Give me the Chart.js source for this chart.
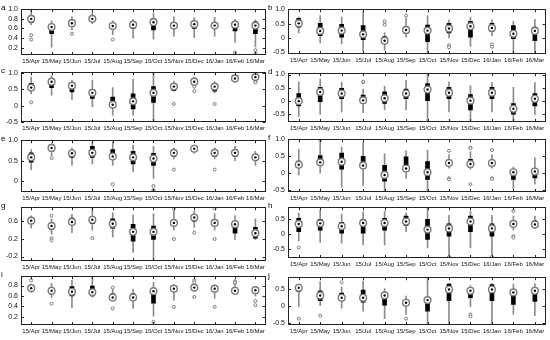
<!DOCTYPE html>
<html>
<head>
<meta charset="utf-8">
<script src="https://cdn.jsdelivr.net/npm/chart.js@4"></script>
<style>
  body { margin: 0; background: #fff; width: 550px; height: 340px; position: relative; overflow: hidden; }
  canvas { position: absolute; }
  .tag { position: absolute; font: 8px "Liberation Sans", Arial, sans-serif; color: #000; }
</style>
</head>
<body>
<script>
const months = ['15/Apr', '15/May', '15/Jun', '15/Jul', '15/Aug', '15/Sep', '15/Oct', '15/Nov', '15/Dec', '16/Jan', '16/Feb', '16/Mar'];

// panel a
const aLo  = [0.68, 0.21, 0.57, 0.70, 0.47, 0.40, 0.38, 0.44, 0.41, 0.44, 0.31, 0.22];
const aQ1  = [0.72, 0.49, 0.65, 0.76, 0.60, 0.60, 0.57, 0.60, 0.60, 0.60, 0.55, 0.49];
const aMed = [0.80, 0.63, 0.71, 0.80, 0.65, 0.68, 0.73, 0.66, 0.69, 0.66, 0.68, 0.66];
const aQ3  = [0.83, 0.68, 0.76, 0.84, 0.70, 0.71, 0.80, 0.71, 0.74, 0.73, 0.71, 0.74];
const aHi  = [0.97, 0.76, 0.84, 0.93, 0.76, 0.79, 0.92, 0.84, 0.82, 0.83, 0.79, 0.78];
const aOut = [[0, 0.46], [0, 0.37], [2, 0.49], [4, 0.37], [10, 0.10], [11, 0.15], [11, 0.08]];
const aTicks = [0.2, 0.4, 0.6, 0.8, 1];

// panel b
const bLo  = [0.18, -0.17, -0.20, -0.45, -0.42, 0.03, -0.55, 0.01, -0.29, 0.08, -0.52, -0.52];
const bQ1  = [0.38, 0.08, 0.03, -0.05, -0.17, 0.15, -0.12, 0.18, 0.03, 0.23, -0.02, -0.09];
const bMed = [0.51, 0.25, 0.26, 0.13, -0.09, 0.28, 0.26, 0.33, 0.41, 0.35, 0.15, 0.25];
const bQ3  = [0.68, 0.51, 0.48, 0.43, 0.05, 0.41, 0.45, 0.51, 0.58, 0.51, 0.43, 0.38];
const bHi  = [0.73, 0.78, 0.73, 0.93, 0.18, 0.68, 0.78, 0.63, 0.73, 0.63, 0.58, 0.65];
const bOut = [[4, 0.58], [4, 0.46], [5, 0.78], [7, -0.25], [7, -0.32], [9, -0.22], [9, -0.30]];
const bTicks = [-0.5, 0, 0.5, 1];

// panel c
const cLo  = [0.36, 0.32, 0.19, -0.03, -0.29, -0.29, -0.50, 0.44, 0.63, 0.39, 0.71, 0.83];
const cQ1  = [0.46, 0.55, 0.42, 0.22, -0.05, -0.10, 0.10, 0.46, 0.65, 0.44, 0.78, 0.84];
const cMed = [0.55, 0.73, 0.61, 0.39, 0.03, 0.13, 0.39, 0.58, 0.73, 0.58, 0.83, 0.87];
const cQ3  = [0.68, 0.78, 0.65, 0.49, 0.26, 0.36, 0.58, 0.65, 0.80, 0.63, 0.87, 0.92];
const cHi  = [0.87, 0.92, 0.78, 0.78, 0.55, 0.81, 1.02, 0.75, 0.87, 0.73, 0.94, 0.97];
const cOut = [[0, 0.10], [7, 0.05], [8, 0.58], [8, 0.44], [9, 0.05], [11, 0.73], [11, 0.71]];
const cTicks = [-0.5, 0, 0.5, 1];

// panel d
const dLo  = [-0.59, -0.51, -0.42, -0.45, -0.34, -0.34, -0.80, -0.42, -0.80, -0.42, -0.80, -0.53];
const dQ1  = [-0.19, -0.03, 0.08, -0.10, -0.10, 0.08, 0.01, 0.08, -0.34, 0.08, -0.50, -0.19];
const dMed = [-0.01, 0.34, 0.28, 0.02, 0.10, 0.28, 0.43, 0.31, 0.01, 0.31, -0.30, 0.08];
const dQ3  = [0.28, 0.51, 0.48, 0.22, 0.34, 0.45, 0.66, 0.51, 0.24, 0.51, -0.10, 0.28];
const dHi  = [0.72, 0.83, 0.71, 0.45, 0.55, 0.78, 1.05, 0.72, 0.57, 0.69, 0.51, 0.69];
const dOut = [[3, 0.71], [3, 0.73]];
const dTicks = [-0.5, 0, 0.5, 1];

// panel e
const eLo  = [0.27, 0.62, 0.38, 0.42, 0.38, 0.23, 0.06, 0.54, 0.68, 0.54, 0.50, 0.38];
const eQ1  = [0.46, 0.73, 0.58, 0.58, 0.54, 0.42, 0.38, 0.60, 0.73, 0.60, 0.60, 0.50];
const eMed = [0.58, 0.81, 0.68, 0.69, 0.60, 0.58, 0.55, 0.69, 0.79, 0.69, 0.69, 0.58];
const eQ3  = [0.69, 0.88, 0.73, 0.85, 0.77, 0.73, 0.68, 0.75, 0.85, 0.75, 0.75, 0.65];
const eHi  = [0.77, 0.92, 0.81, 0.96, 0.96, 0.88, 0.85, 0.81, 0.88, 0.81, 0.85, 0.73];
const eOut = [[1, 0.56], [4, -0.08], [6, -0.12], [6, -0.22], [6, -0.25], [7, 0.28], [9, 0.28]];
const eTicks = [0, 0.5, 1];

// panel f
const fLo  = [-0.05, 0.00, -0.41, -0.36, -0.55, -0.15, -0.55, 0.15, 0.12, 0.15, -0.45, -0.32];
const fQ1  = [0.18, 0.23, 0.12, 0.14, -0.23, 0.05, -0.18, 0.23, 0.18, 0.21, -0.18, -0.14];
const fMed = [0.25, 0.32, 0.34, 0.23, -0.05, 0.14, 0.03, 0.30, 0.27, 0.30, 0.03, 0.05];
const fQ3  = [0.36, 0.52, 0.59, 0.50, 0.23, 0.48, 0.34, 0.39, 0.41, 0.39, 0.09, 0.14];
const fHi  = [0.70, 0.91, 0.77, 0.91, 0.57, 0.66, 0.68, 0.55, 0.64, 0.55, 0.18, 0.45];
const fOut = [[1, 0.98], [7, 0.66], [7, -0.15], [7, -0.18], [8, 0.75], [8, 0.74], [8, -0.32], [9, 0.68], [9, -0.15], [9, -0.16]];
const fTicks = [-0.5, 0, 0.5, 1];

// panel g
const gLo  = [0.43, 0.30, 0.33, 0.39, 0.23, -0.11, -0.30, 0.39, 0.45, 0.39, 0.18, 0.18];
const gQ1  = [0.55, 0.40, 0.52, 0.53, 0.43, 0.14, 0.18, 0.50, 0.59, 0.50, 0.32, 0.21];
const gMed = [0.60, 0.48, 0.57, 0.62, 0.53, 0.35, 0.35, 0.55, 0.67, 0.55, 0.52, 0.32];
const gQ3  = [0.66, 0.55, 0.66, 0.67, 0.64, 0.52, 0.48, 0.60, 0.73, 0.62, 0.59, 0.45];
const gHi  = [0.71, 0.64, 0.74, 0.90, 0.78, 0.73, 0.76, 0.82, 0.82, 0.76, 0.71, 0.64];
const gOut = [[1, 0.71], [1, 0.21], [1, 0.16], [3, 0.21], [7, 0.87], [7, 0.19], [8, 0.33], [9, 0.87], [9, 0.19]];
const gTicks = [-0.2, 0, 0.2, 0.4, 0.6, 0.8];

// panel h
const hLo  = [-0.23, -0.28, -0.30, -0.36, -0.36, 0.08, -0.46, -0.74, -0.46, -0.74, 0.13, 0.19];
const hQ1  = [0.08, 0.13, 0.03, 0.03, 0.13, 0.29, -0.18, -0.07, 0.08, -0.07, 0.26, 0.24];
const hMed = [0.34, 0.36, 0.26, 0.37, 0.37, 0.42, 0.15, 0.19, 0.42, 0.19, 0.34, 0.32];
const hQ3  = [0.53, 0.49, 0.39, 0.49, 0.53, 0.60, 0.49, 0.34, 0.60, 0.34, 0.44, 0.44];
const hHi  = [0.70, 0.80, 0.67, 0.75, 0.77, 0.70, 0.90, 0.63, 0.77, 0.63, 0.60, 0.60];
const hOut = [[0, -0.45], [7, -0.77], [9, -0.77], [10, 0.77], [10, -0.07], [10, -0.12]];
const hTicks = [-0.5, 0, 0.5];

// panel i
const iLo  = [0.67, 0.57, 0.37, 0.58, 0.50, 0.36, 0.21, 0.52, 0.69, 0.55, 0.63, 0.60];
const iQ1  = [0.71, 0.64, 0.60, 0.60, 0.54, 0.54, 0.46, 0.69, 0.71, 0.69, 0.66, 0.65];
const iMed = [0.75, 0.70, 0.68, 0.67, 0.57, 0.57, 0.69, 0.74, 0.76, 0.74, 0.70, 0.71];
const iQ3  = [0.79, 0.75, 0.78, 0.79, 0.64, 0.64, 0.75, 0.78, 0.80, 0.78, 0.75, 0.75];
const iHi  = [0.83, 0.84, 0.90, 0.98, 0.73, 0.73, 0.86, 0.81, 0.86, 0.81, 0.81, 0.78];
const iOut = [[0, 0.90], [1, 0.45], [4, 0.76], [4, 0.36], [6, 0.10], [7, 0.39], [8, 0.90], [8, 0.86], [8, 0.58], [9, 0.39], [10, 0.88], [10, 0.85], [10, 0.86], [11, 0.50], [11, 0.42]];
const iTicks = [0.2, 0.4, 0.6, 0.8];

// panel j
const jLo  = [-0.02, 0.01, -0.06, -0.15, -0.38, -0.25, -0.57, -0.57, -0.02, -0.57, -0.25, -0.29];
const jQ1  = [0.44, 0.16, 0.16, 0.12, 0.03, 0.03, -0.15, 0.16, 0.25, 0.16, 0.05, 0.14];
const jMed = [0.55, 0.32, 0.25, 0.25, 0.32, 0.10, 0.18, 0.50, 0.46, 0.50, 0.41, 0.46];
const jQ3  = [0.62, 0.46, 0.39, 0.48, 0.35, 0.16, 0.21, 0.66, 0.55, 0.65, 0.50, 0.55];
const jHi  = [0.66, 0.74, 0.57, 0.75, 0.53, 0.30, 0.87, 0.68, 0.62, 0.68, 0.66, 0.68];
const jOut = [[0, -0.38], [1, -0.29], [2, 0.71], [5, -0.38], [8, -0.25], [8, -0.31]];
const jTicks = [-0.5, 0, 0.5];

// layout: plot-area box of each panel and its y range
const panels = [
  { id: 'a', lo: aLo, q1: aQ1, med: aMed, q3: aQ3, hi: aHi, out: aOut, ticks: aTicks, ymin: 0.05, ymax: 1.0, L: 21, T: 6, R: 268, B: 55 },
  { id: 'b', lo: bLo, q1: bQ1, med: bMed, q3: bQ3, hi: bHi, out: bOut, ticks: bTicks, ymin: -0.55, ymax: 1.0, L: 288, T: 6, R: 548, B: 54 },
  { id: 'c', lo: cLo, q1: cQ1, med: cMed, q3: cQ3, hi: cHi, out: cOut, ticks: cTicks, ymin: -0.5, ymax: 1.02, L: 21, T: 69, R: 268, B: 122 },
  { id: 'd', lo: dLo, q1: dQ1, med: dMed, q3: dQ3, hi: dHi, out: dOut, ticks: dTicks, ymin: -0.8, ymax: 1.05, L: 288, T: 70, R: 548, B: 122 },
  { id: 'e', lo: eLo, q1: eQ1, med: eMed, q3: eQ3, hi: eHi, out: eOut, ticks: eTicks, ymin: -0.27, ymax: 1.0, L: 21, T: 137, R: 268, B: 192 },
  { id: 'f', lo: fLo, q1: fQ1, med: fMed, q3: fQ3, hi: fHi, out: fOut, ticks: fTicks, ymin: -0.55, ymax: 1.0, L: 288, T: 136, R: 548, B: 192 },
  { id: 'g', lo: gLo, q1: gQ1, med: gMed, q3: gQ3, hi: gHi, out: gOut, ticks: gTicks, ymin: -0.3, ymax: 0.9, L: 21, T: 204, R: 268, B: 261 },
  { id: 'h', lo: hLo, q1: hQ1, med: hMed, q3: hQ3, hi: hHi, out: hOut, ticks: hTicks, ymin: -0.8, ymax: 0.9, L: 288, T: 204, R: 548, B: 258 },
  { id: 'i', lo: iLo, q1: iQ1, med: iMed, q3: iQ3, hi: iHi, out: iOut, ticks: iTicks, ymin: 0.04, ymax: 0.98, L: 21, T: 273, R: 268, B: 325 },
  { id: 'j', lo: jLo, q1: jQ1, med: jMed, q3: jQ3, hi: jHi, out: jOut, ticks: jTicks, ymin: -0.57, ymax: 0.87, L: 288, T: 274, R: 548, B: 325 }
];

const FONT = '"Liberation Sans", Arial, sans-serif';
const YW = 22, XH = 13, PT = 4, PR = 3;

// box frame with inward tick marks, like the matlab axes
const framePlugin = {
  id: 'frame',
  afterDraw(chart) {
    const { ctx, chartArea: a, scales } = chart;
    ctx.save();
    ctx.strokeStyle = '#222';
    ctx.lineWidth = 1;
    ctx.strokeRect(Math.round(a.left) + 0.5, Math.round(a.top) + 0.5, Math.round(a.right - a.left) - 1, Math.round(a.bottom - a.top) - 1);
    ctx.beginPath();
    scales.x.ticks.forEach((t, i) => {
      const x = Math.round(scales.x.getPixelForTick(i)) + 0.5;
      ctx.moveTo(x, a.bottom); ctx.lineTo(x, a.bottom - 3);
      ctx.moveTo(x, a.top); ctx.lineTo(x, a.top + 3);
    });
    scales.y.ticks.forEach((t, i) => {
      const y = Math.round(scales.y.getPixelForTick(i)) + 0.5;
      ctx.moveTo(a.left, y); ctx.lineTo(a.left + 3, y);
      ctx.moveTo(a.right, y); ctx.lineTo(a.right - 3, y);
    });
    ctx.stroke();
    ctx.restore();
  }
};

panels.forEach(p => {
  const canvas = document.createElement('canvas');
  const w = p.R - p.L + YW + PR;
  const h = p.B - p.T + PT + XH;
  canvas.width = w;
  canvas.height = h;
  canvas.style.left = (p.L - YW) + 'px';
  canvas.style.top = (p.T - PT) + 'px';
  canvas.style.width = w + 'px';
  canvas.style.height = h + 'px';
  document.body.appendChild(canvas);

  const tag = document.createElement('div');
  tag.className = 'tag';
  tag.textContent = p.id;
  tag.style.left = (p.L - 20) + 'px';
  tag.style.top = (p.T - 3) + 'px';
  document.body.appendChild(tag);

  const whiskers = p.lo.map((v, i) => [v, p.hi[i]]);
  const boxes = p.q1.map((v, i) => [v, p.q3[i]]);
  const outliers = p.out.map(o => ({ x: months[o[0]], y: o[1] }));

  new Chart(canvas, {
    type: 'bar',
    data: {
      labels: months,
      datasets: [
        { type: 'line', data: p.med, showLine: false, pointStyle: 'circle', pointRadius: 1.2, pointBackgroundColor: '#000', pointBorderWidth: 0, order: 1 },
        { type: 'line', data: p.med, showLine: false, pointStyle: 'circle', pointRadius: 3.4, pointBackgroundColor: '#fff', pointBorderColor: '#7a7a7a', pointBorderWidth: 1.4, order: 2 },
        { type: 'line', data: outliers, showLine: false, pointStyle: 'circle', pointRadius: 1.5, pointBackgroundColor: '#fff', pointBorderColor: '#7a7a7a', pointBorderWidth: 1, order: 3 },
        { data: boxes, backgroundColor: '#000', barThickness: 4, grouped: false, order: 4 },
        { data: whiskers, backgroundColor: '#8c8c8c', barThickness: 1, grouped: false, order: 5 }
      ]
    },
    options: {
      animation: false,
      responsive: false,
      devicePixelRatio: 1,
      events: [],
      layout: { padding: { top: PT, right: PR, left: 0, bottom: 0 } },
      plugins: { legend: { display: false }, tooltip: { enabled: false } },
      scales: {
        x: {
          offset: true,
          grid: { display: false, drawTicks: false },
          border: { display: false },
          ticks: { font: { size: 6, family: FONT }, color: '#111', padding: 3, maxRotation: 0, autoSkip: false },
          afterFit: s => { s.height = XH; }
        },
        y: {
          min: p.ymin,
          max: p.ymax,
          grid: { display: false, drawTicks: false },
          border: { display: false },
          ticks: { font: { size: 7, family: FONT }, color: '#111', padding: 3 },
          afterBuildTicks: s => { s.ticks = p.ticks.map(v => ({ value: v })); },
          afterFit: s => { s.width = YW; }
        }
      }
    },
    plugins: [framePlugin]
  });
});
</script>
</body>
</html>
